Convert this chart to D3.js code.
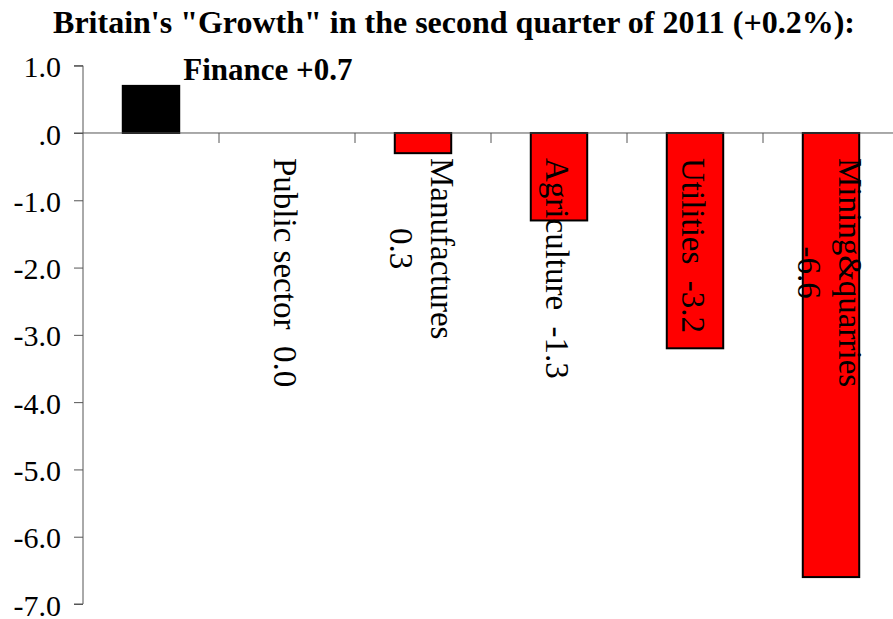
<!DOCTYPE html>
<html>
<head>
<meta charset="utf-8">
<script src="https://cdn.jsdelivr.net/npm/d3@7"></script>
<style>
  html, body { margin: 0; padding: 0; background: #fff; }
  svg { display: block; }
  text { font-family: "Liberation Serif", "Times New Roman", serif; fill: #000; }
</style>
</head>
<body>
<svg id="chart" width="893" height="619"></svg>
<script>
// Sector contributions to UK output, Q2 2011 (% change)
const categories = ["Finance", "Public sector", "Manufactures", "Agriculture", "Utilities", "Mining&quarries"];
const values = [0.7, 0.0, -0.3, -1.3, -3.2, -6.6];
const barColors = ["#000000", "#ff0000", "#ff0000", "#ff0000", "#ff0000", "#ff0000"];
const labelLines = [
  ["Finance +0.7"],
  ["Public sector  0.0"],
  ["Manufactures", "0.3"],
  ["Agriculture  -1.3"],
  ["Utilities  -3.2"],
  ["Mining&quarries", "-6.6"]
];
const yTicks = [1, 0, -1, -2, -3, -4, -5, -6, -7];
const titleText = "Britain's \"Growth\" in the second quarter of 2011 (+0.2%):";

const svg = d3.select("#chart");
const W = 893, H = 619;
const axisX = 83;

const y = d3.scaleLinear().domain([-7, 1]).range([604, 65.7]);
const x = d3.scaleBand().domain(categories).range([axisX, axisX + 816])
  .paddingInner(0.585).paddingOuter(0.2925);
const step = x.step();

// Title
svg.append("text")
  .attr("x", 454).attr("y", 33)
  .attr("text-anchor", "middle")
  .style("font-family", "'Liberation Serif', serif")
  .style("font-weight", "bold")
  .style("font-size", "32px")
  .text(titleText);

// Y axis
const yAxis = d3.axisLeft(y)
  .tickValues(yTicks)
  .tickSize(9)
  .tickPadding(13)
  .tickFormat(d => d === 0 ? ".0" : d.toFixed(1));
const gy = svg.append("g").attr("transform", `translate(${axisX},0)`).call(yAxis);
gy.attr("font-family", null).attr("font-size", null);
gy.select(".domain").attr("stroke", "#555").attr("d", `M-9,${y(1)}H0V${y(-7)}H-9`);
gy.selectAll(".tick line").attr("stroke", "#555");
gy.selectAll(".tick text")
  .style("font-family", "'Liberation Serif', serif")
  .style("font-size", "30px")
  .attr("dy", "0.37em")
  .attr("fill", "#000");

// Bars
svg.append("g").selectAll("rect")
  .data(categories)
  .join("rect")
  .attr("x", d => x(d))
  .attr("width", x.bandwidth())
  .attr("y", (d, i) => y(Math.max(0, values[i])))
  .attr("height", (d, i) => Math.abs(y(values[i]) - y(0)))
  .attr("fill", (d, i) => barColors[i])
  .attr("stroke", "#000")
  .attr("stroke-width", (d, i) => values[i] === 0 ? 0 : 2);

// Zero line with category separators
svg.append("line")
  .attr("x1", axisX - 9).attr("x2", W)
  .attr("y1", y(0)).attr("y2", y(0))
  .attr("stroke", "#555").attr("stroke-width", 1);
const boundaries = d3.range(1, categories.length + 1).map(i => axisX + i * step);
svg.append("g").selectAll("line")
  .data(boundaries)
  .join("line")
  .attr("x1", d => d).attr("x2", d => d)
  .attr("y1", y(0)).attr("y2", y(0) + 10)
  .attr("stroke", "#555").attr("stroke-width", 1);

// Finance label, horizontal bold
svg.append("text")
  .attr("x", x(categories[0]) + x.bandwidth() + 4)
  .attr("y", y(values[0]) - 6)
  .style("font-family", "'Liberation Serif', serif")
  .style("font-weight", "bold")
  .style("font-size", "31px")
  .text(labelLines[0][0]);

// Rotated category labels
const lineH = 41;
categories.slice(1).forEach((cat, k) => {
  const i = k + 1;
  const lines = labelLines[i];
  const cx = x(cat) + x.bandwidth() / 2;
  const bx = cx - 13 + (lines.length - 1) * lineH / 2;
  const g = svg.append("g").attr("transform", `translate(${bx},158) rotate(90)`);
  const texts = g.selectAll("text")
    .data(lines)
    .join("text")
    .attr("y", (d, j) => j * lineH)
    .style("font-size", "33px")
    .style("white-space", "pre")
    .attr("xml:space", "preserve")
    .text(d => d);
  const maxW = d3.max(texts.nodes(), n => n.getComputedTextLength());
  texts.attr("x", maxW / 2).attr("text-anchor", "middle");
});
</script>
</body>
</html>
